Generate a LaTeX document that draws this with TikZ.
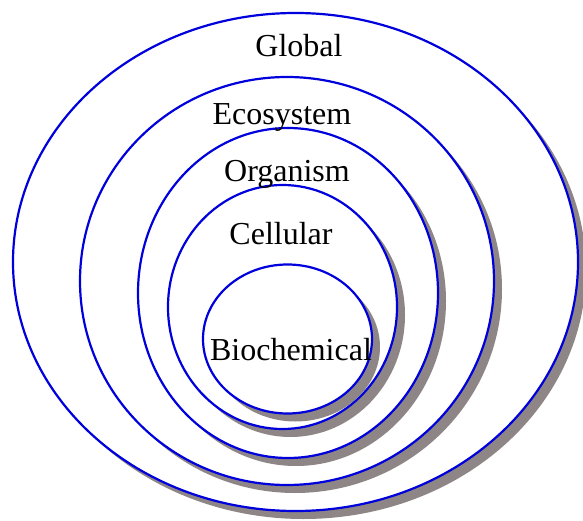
\documentclass[tikz,border=0pt]{standalone}
\usepackage{fontspec}
\setmainfont{Liberation Serif}
\usetikzlibrary{shapes.geometric,shadows}
\definecolor{ringblue}{RGB}{0,0,220}
\definecolor{shadegray}{RGB}{142,134,134}

\begin{document}
\begin{tikzpicture}[x=1pt, y=-1pt,
    level/.style={ellipse, draw=ringblue, line width=2.2pt, fill=white, inner sep=0pt,
      drop shadow={shadow xshift=8pt, shadow yshift=-8pt, fill=shadegray, opacity=1}},
    tag/.style={anchor=base, inner sep=0pt, font=\fontsize{32}{38}\selectfont}]
   \useasboundingbox (0,0) rectangle (583,521);
   % rings, outside in
   \node[level, minimum width=565, minimum height=498] (global) at (295.5,262) {};
   \node[level, minimum width=414, minimum height=408] (eco)    at (287,281)   {};
   \node[level, minimum width=300, minimum height=330] (org)    at (288,293)   {};
   \node[level, minimum width=229, minimum height=244] (cell)   at (282.5,307) {};
   \node[level, minimum width=169, minimum height=149] (bio)    at (287.5,339) {};
   % labels
   \node[tag] (lglobal) at (299,57)  {Global};
   \node[tag] (leco)    at (282,125) {Ecosystem};
   \node[tag] (lorg)    at (287,182) {Organism};
   \node[tag] (lcell)   at (281,244) {Cellular};
   \node[tag] (lbio)    at (291,360) {Biochemical};
\end{tikzpicture}
\end{document}
